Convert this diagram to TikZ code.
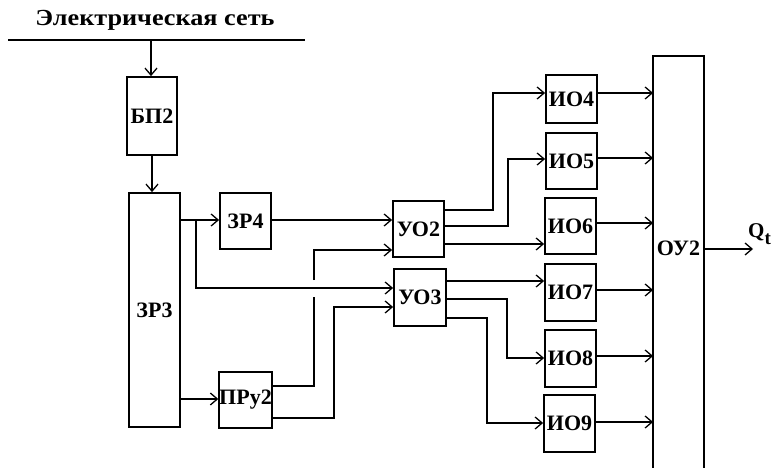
\documentclass[tikz,border=0pt]{standalone}
\usepackage{fontspec}
\setmainfont{Liberation Serif}
\newfontfamily\titlefont[FakeStretch=1.14]{Liberation Serif}
\usetikzlibrary{arrows.meta}
\begin{document}
\begin{tikzpicture}[x=1pt,y=-1pt,
  blk/.style={draw, line width=1.8pt, inner sep=0pt, font=\bfseries\fontsize{22}{22}\selectfont},
  wire/.style={line width=1.4pt},
  arr/.style={line width=1.4pt, -{Straight Barb[length=7pt,width=12pt,line width=1.3pt]}}]
\useasboundingbox (0,0) rectangle (777,468);
\clip (0,0) rectangle (777,468);
% title and mains line
\node[font=\titlefont\bfseries\fontsize{23}{23}\selectfont] (title) at (155,20) {Электрическая сеть};
\coordinate (L1) at (8,40);
\coordinate (L2) at (305,40);
\draw[line width=1.8pt] (L1) -- (L2);
% boxes
\node[blk, minimum width=50, minimum height=78] (BP) at (152,116) {БП2};
\node[blk, minimum width=51, minimum height=234] (ZR3) at (154.5,310) {ЗР3};
\node[blk, minimum width=51, minimum height=56] (ZR4) at (245.5,221) {ЗР4};
\node[blk, minimum width=51, minimum height=56] (PRU) at (245.5,400) {ПРу2};
\node[blk, minimum width=51, minimum height=56] (UO2) at (418.5,229) {УО2};
\node[blk, minimum width=52, minimum height=57] (UO3) at (420,297.5) {УО3};
\node[blk, minimum width=51, minimum height=48] (IO4) at (571.5,99) {ИО4};
\node[blk, minimum width=51, minimum height=56] (IO5) at (571.5,161) {ИО5};
\node[blk, minimum width=51, minimum height=56] (IO6) at (570.5,226) {ИО6};
\node[blk, minimum width=51, minimum height=57] (IO7) at (570.5,292.5) {ИО7};
\node[blk, minimum width=51, minimum height=57] (IO8) at (570.5,358.5) {ИО8};
\node[blk, minimum width=51, minimum height=57] (IO9) at (569.5,423.5) {ИО9};
\node[blk, draw=none, minimum width=49, minimum height=420, anchor=north] (OU) at (678.5,56) {};
\draw[line width=1.8pt] (OU.south west) -- (OU.north west) -- (OU.north east) -- (OU.south east);
\node[blk, draw=none] (OUlab) at (OU.center |- 0,248) {ОУ2};
% power feed
\coordinate (tap) at (151,40);
\draw[arr] (tap) -- (tap |- BP.north);
\draw[arr] (BP.south) -- (BP.south |- ZR3.north);
% ZR3 outputs
\coordinate (j1) at (196,220);
\draw[arr] (ZR3.east |- j1) -- (ZR4.west |- j1);
\draw[arr] (j1) |- (UO3.west |- 0,288);
\draw[arr] (ZR3.east |- 0,399) -- (PRU.west |- 0,399);
\draw[arr] (ZR4.east |- 0,220) -- (UO2.west |- 0,220);
% PRU outputs with crossing gap
\coordinate (g1) at (314,297);
\coordinate (g2) at (314,280);
\draw[wire] (PRU.east |- 0,386) -| (g1);
\draw[arr] (g2) |- (UO2.west |- 0,250);
\coordinate (c2) at (334,307);
\draw[arr] (PRU.east |- 0,418) -| (c2) -- (UO3.west |- c2);
% UO2 outputs
\coordinate (b4) at (493,93);
\coordinate (b5) at (508,159);
\draw[arr] (UO2.east |- 0,210) -| (b4) -- (IO4.west |- b4);
\draw[arr] (UO2.east |- 0,226) -| (b5) -- (IO5.west |- b5);
\draw[arr] (UO2.east |- 0,244) -- (IO6.west |- 0,244);
% UO3 outputs
\coordinate (b8) at (507,358);
\coordinate (b9) at (487,423);
\draw[arr] (UO3.east |- 0,281) -- (IO7.west |- 0,281);
\draw[arr] (UO3.east |- 0,299) -| (b8) -- (IO8.west |- b8);
\draw[arr] (UO3.east |- 0,318) -| (b9) -- (IO9.west |- b9);
% IO to OU
\draw[arr] (IO4.east |- 0,93) -- (OU.west |- 0,93);
\draw[arr] (IO5.east |- 0,158) -- (OU.west |- 0,158);
\draw[arr] (IO6.east |- 0,223) -- (OU.west |- 0,223);
\draw[arr] (IO7.east |- 0,290) -- (OU.west |- 0,290);
\draw[arr] (IO8.east |- 0,356) -- (OU.west |- 0,356);
\draw[arr] (IO9.east |- 0,422) -- (OU.west |- 0,422);
% output
\coordinate (q) at (753,249);
\draw[arr] (OU.east |- q) -- (q);
\node[font=\bfseries\fontsize{21}{21}\selectfont, inner sep=0pt, anchor=base west] (Q) at (748,237) {Q\raisebox{-7pt}{\fontsize{19}{19}\selectfont t}};
\end{tikzpicture}
\end{document}
